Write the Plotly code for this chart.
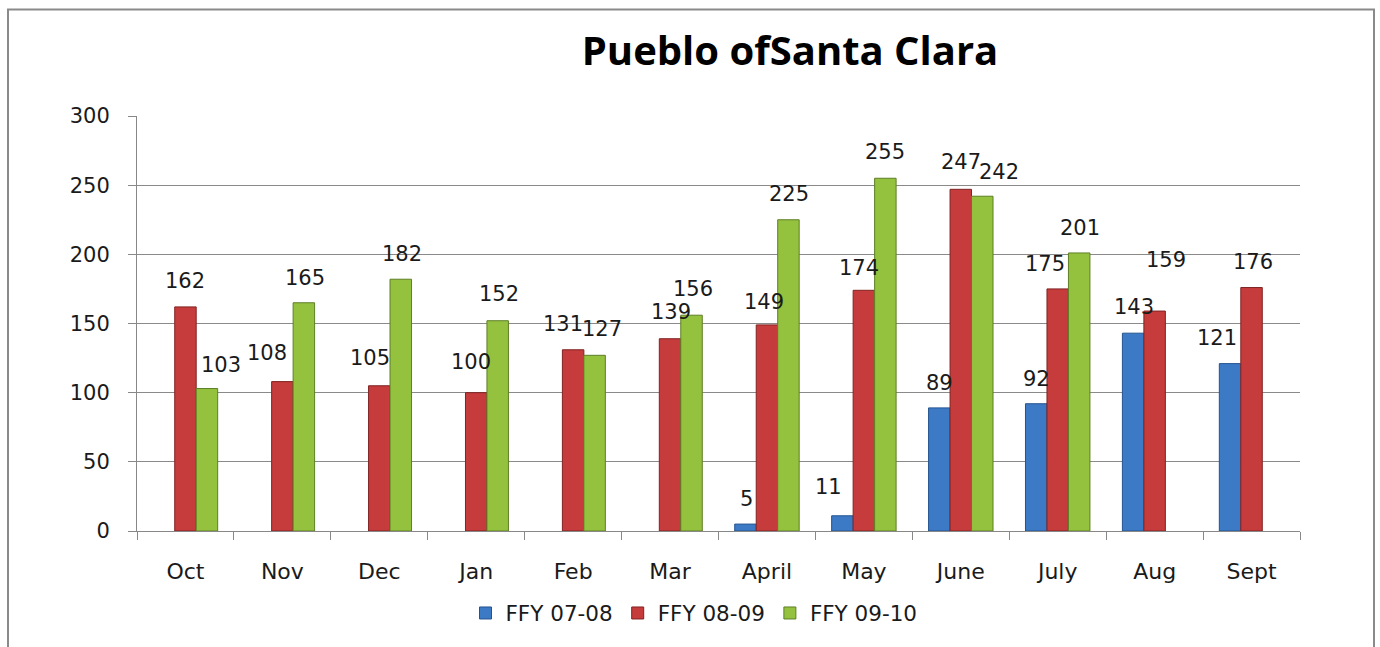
import plotly.graph_objects as go

categories = ["Oct", "Nov", "Dec", "Jan", "Feb", "Mar", "April", "May", "June", "July", "Aug", "Sept"]
series_names = ["FFY 07-08", "FFY 08-09", "FFY 09-10"]
ffy_07_08 = [None, None, None, None, None, None, 5, 11, 89, 92, 143, 121]
ffy_08_09 = [162, 108, 105, 100, 131, 139, 149, 174, 247, 175, 159, 176]
ffy_09_10 = [103, 165, 182, 152, 127, 156, 225, 255, 242, 201, None, None]
y_ticks = [0, 50, 100, 150, 200, 250, 300]

# label nudges in pixels (style only): (dx, dy) per series per month
label_nudges = [
    [(0, 0)] * 6 + [(1, -1), (-14, 3), (0, -1), (0, -1), (1, 0), (-13, 0)],
    [(0, 0), (-15, 3), (-9, 2), (-5, 5), (-10, 0), (1, 1), (-3, -3), (-5, -4), (0, 1), (-13, -1), (11, 25), (1, 0)],
    [(14, -2), (1, -1), (1, -1), (1, 1), (7, 0), (1, 0), (1, 0), (0, 0), (17, -2), (1, -1), (0, 0), (0, 0)],
]

colors = ["#3C7AC6", "#C63B3B", "#94C13E"]
edge_colors = ["#24538F", "#812323", "#5E7F25"]

W, H = 1380, 647
L, T = 137, 116
R = W - 1300
B = H - 531
pw = W - L - R
ph = H - T - B
BARGAP = 0.335
bar_px = pw / len(categories) * (1 - BARGAP) / 3

def px_x(p):
    return (p - L) / pw

def px_y(p):
    return (H - B - p) / ph

fig = go.Figure()
all_series = [ffy_07_08, ffy_08_09, ffy_09_10]
for name, vals, c, ec in zip(series_names, all_series, colors, edge_colors):
    fig.add_trace(go.Bar(
        name=name, x=categories, y=vals,
        marker=dict(color=c, line=dict(color=ec, width=1)),
    ))

annotations = []
for si, vals in enumerate(all_series):
    for ci, v in enumerate(vals):
        if v is None:
            continue
        dx, dy = label_nudges[si][ci]
        annotations.append(dict(
            x=categories[ci], y=v, xref="x", yref="y", text=str(v), showarrow=False,
            xanchor="center", yanchor="middle",
            xshift=(si - 1) * bar_px + dx, yshift=26 + dy,
            font=dict(family="DejaVu Sans", size=21, color="#1a1a1a"),
        ))

fig.update_layout(
    width=W, height=H,
    margin=dict(l=L, r=R, t=T, b=B),
    barmode="group", bargap=BARGAP, bargroupgap=0,
    plot_bgcolor="white", paper_bgcolor="white",
    font=dict(family="DejaVu Sans", size=20, color="#1a1a1a"),
    title=dict(text="<b>Pueblo ofSanta Clara</b>", xref="paper", x=px_x(790), xanchor="center",
               yref="container", y=1 - 51 / H, yanchor="middle",
               font=dict(family="Open Sans", size=40, color="#000000")),
    legend=dict(orientation="h", xref="paper", yref="paper", x=px_x(694), xanchor="center",
                y=px_y(613), yanchor="middle", font=dict(size=21.5), itemwidth=30,
                traceorder="normal"),
    showlegend=True,
    annotations=annotations,
    xaxis=dict(showline=True, linecolor="#888888", linewidth=1, ticks="outside", tickson="boundaries",
               ticklen=8, tickcolor="#888888", ticklabelstandoff=21, tickfont=dict(size=22)),
    yaxis=dict(range=[0, 300], tickvals=y_ticks, showgrid=True, gridcolor="#8a8a8a", gridwidth=1,
               showline=True, linecolor="#888888", linewidth=1, ticks="outside", ticklen=8,
               tickcolor="#888888", ticklabelstandoff=14, tickfont=dict(size=21), zeroline=False),
    shapes=[dict(type="rect", xref="paper", yref="paper", x0=px_x(8), x1=px_x(1374),
                 y0=px_y(700), y1=px_y(9.5), line=dict(color="#8a8a8a", width=2), layer="below")],
)

fig.write_html("out.html", config={"displayModeBar": False},
               post_script="document.body.style.margin='0';document.body.style.overflow='hidden';")
